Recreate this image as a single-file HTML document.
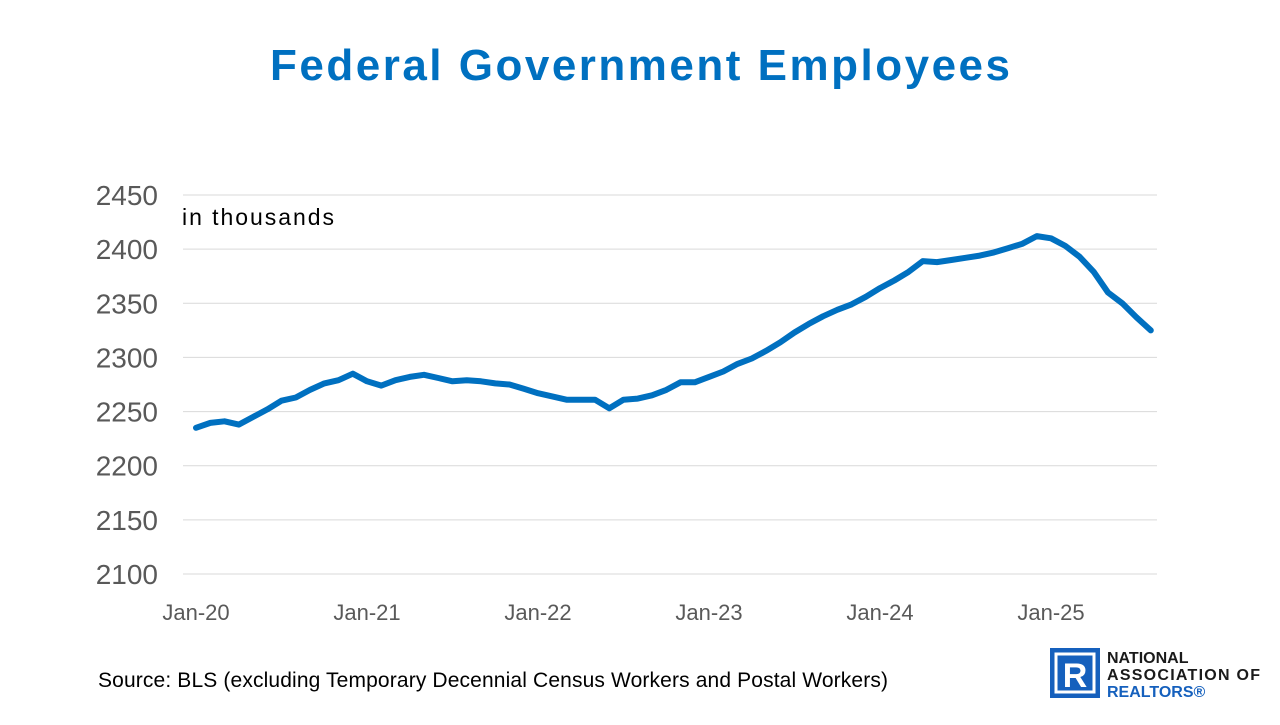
<!DOCTYPE html>
<html><head><meta charset="utf-8"><style>
body{margin:0;width:1280px;height:720px;background:#fff;overflow:hidden;font-family:"Liberation Sans",sans-serif}
</style></head><body>
<svg id="c" width="1280" height="720">
<text x="640" y="80" text-anchor="middle" font-size="44" font-weight="bold" fill="#0070C0" textLength="740">Federal Government Employees</text>
<text x="182" y="225" font-size="23" fill="#000" textLength="152">in thousands</text>
<text x="98" y="687" font-size="21" fill="#000" textLength="790">Source: BLS (excluding Temporary Decennial Census Workers and Postal Workers)</text>
<g>
<rect x="1050" y="648" width="50" height="50" fill="#1560BD"/>
<rect x="1056" y="654" width="38" height="38" fill="none" stroke="#fff" stroke-width="3"/>
<text x="1075" y="687" text-anchor="middle" font-size="34" font-weight="bold" fill="#fff">R</text>
<text x="1107" y="663" font-size="16" font-weight="bold" fill="#1a1a1a">NATIONAL</text>
<text x="1107" y="680" font-size="16" font-weight="bold" fill="#1a1a1a" textLength="153">ASSOCIATION OF</text>
<text x="1107" y="697" font-size="16" font-weight="bold" fill="#1560BD">REALTORS®</text>
</g>
<g id="grid"></g><g id="ylab"></g><g id="xlab"></g><g id="plot"></g>
</svg>
<script>
const yTicks=[2100,2150,2200,2250,2300,2350,2400,2450];
const xTickLabels=["Jan-20","Jan-21","Jan-22","Jan-23","Jan-24","Jan-25"];
const values2020=[2235,2239.5,2241,2238,2245,2252,2260,2263,2270,2276,2279,2285];
const values2021=[2278,2274,2279,2282,2284,2281,2278,2279,2278,2276,2275,2271];
const values2022=[2267,2264,2261,2261,2261,2253,2261,2262,2265,2270,2277,2277];
const values2023=[2282,2287,2294,2299,2306,2314,2323,2331,2338,2344,2349,2356];
const values2024=[2364,2371,2379,2389,2388,2390,2392,2394,2397,2401,2405,2412];
const values2025=[2410,2403,2393,2379,2360,2350,2337,2325];
const series=[].concat(values2020,values2021,values2022,values2023,values2024,values2025);
const NS="http://www.w3.org/2000/svg";
const x0=196,perMonth=14.25,yMin=2100,yMax=2450,yBot=574,yTop=195,left=183,right=1157;
const xs=i=>x0+i*perMonth;
const ys=v=>yBot-(v-yMin)/(yMax-yMin)*(yBot-yTop);
function mk(t,a,p){const e=document.createElementNS(NS,t);for(const k in a)e.setAttribute(k,a[k]);p.appendChild(e);return e;}
const g=document.getElementById('grid'),yl=document.getElementById('ylab'),xl=document.getElementById('xlab'),pl=document.getElementById('plot');
yTicks.forEach(v=>{
 const l=mk('line',{x1:left,x2:right,y1:ys(v),y2:ys(v),stroke:'#d9d9d9','stroke-width':1},g);
 
 
 const t=mk('text',{x:158,y:ys(v)+10,'text-anchor':'end','font-size':28,fill:'#595959'},yl);
 t.textContent=v;
 
 
});
xTickLabels.forEach((s,i)=>{
 const t=mk('text',{x:xs(i*12),y:620,'text-anchor':'middle','font-size':22,fill:'#595959'},xl);
 t.textContent=s;
 
 
});
const d=series.map((v,i)=>(i?'L':'M')+xs(i).toFixed(1)+' '+ys(v).toFixed(1)).join(' ');
const p=mk('path',{d:d,fill:'none',stroke:'#0070C0','stroke-width':6,'stroke-linejoin':'round','stroke-linecap':'round'},pl);


</script>
</body></html>
